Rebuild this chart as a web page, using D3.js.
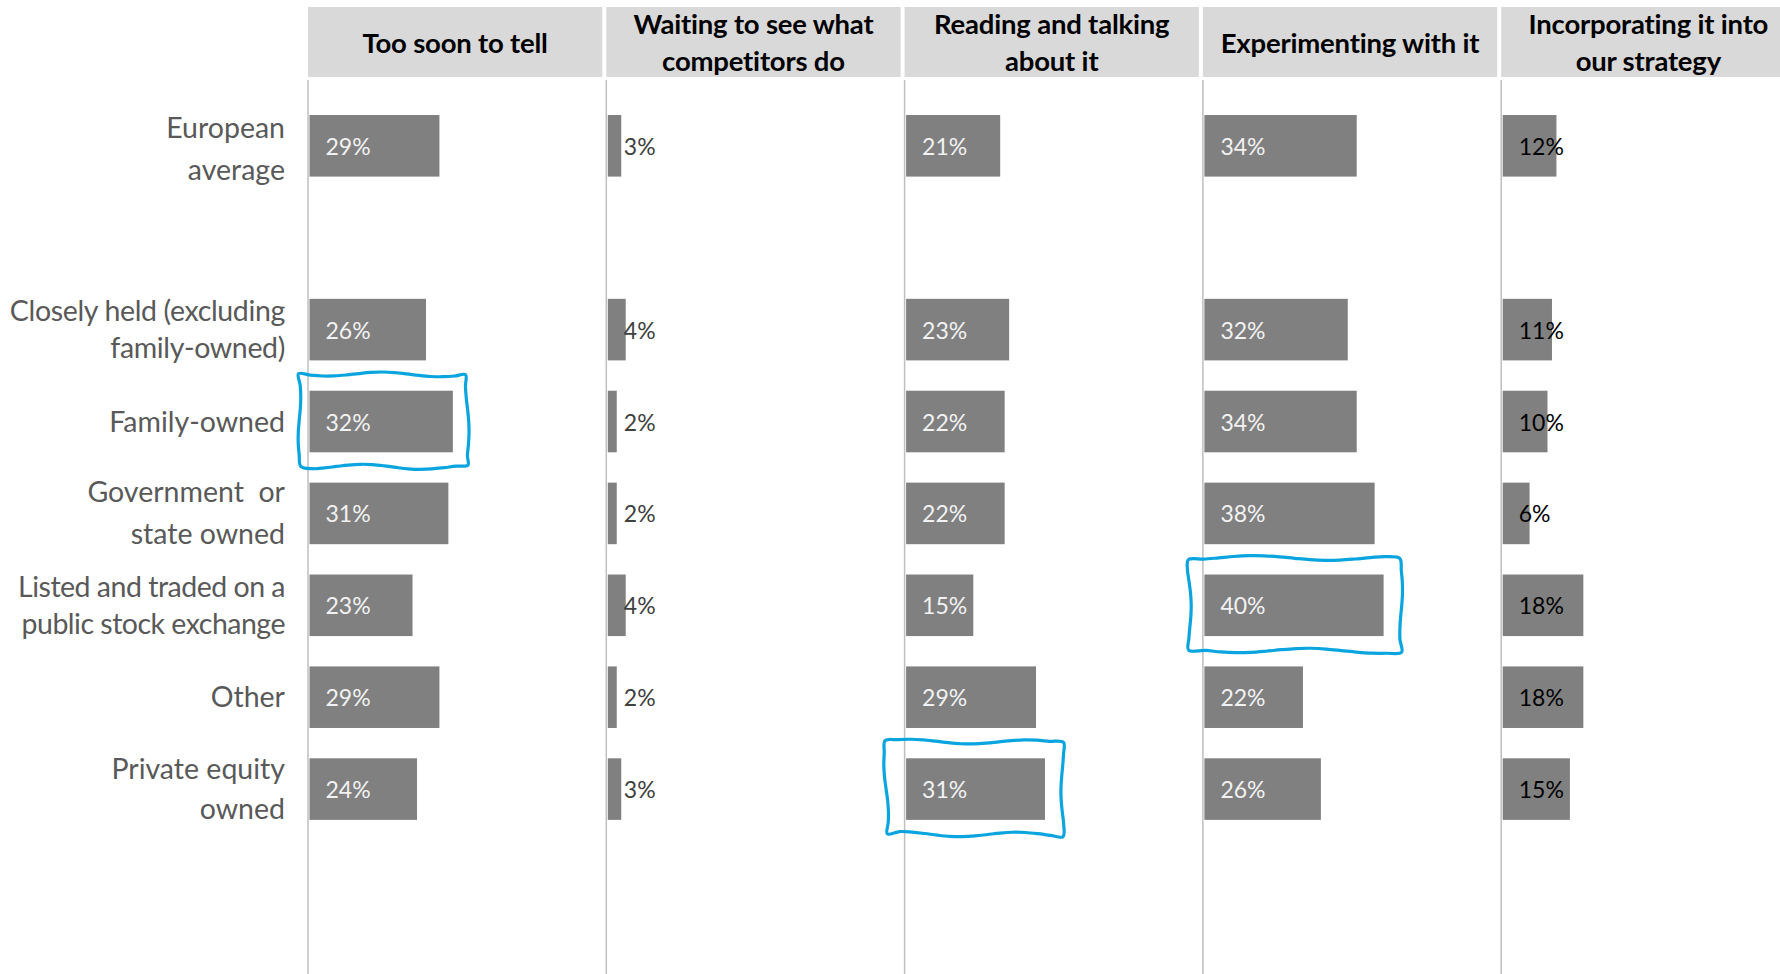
<!DOCTYPE html>
<html>
<head>
<meta charset="utf-8">
<script src="https://cdn.jsdelivr.net/npm/d3@7"></script>
<style>
  html, body { margin: 0; padding: 0; background: #ffffff; }
  svg { display: block; }
  text { font-family: Lato, "Open Sans", sans-serif; }
</style>
</head>
<body>
<svg id="chart" width="1780" height="974"></svg>
<script>
// Ownership groups (rows) and the label lines used for each one
const groups = [
  "European average",
  "Closely held (excluding family-owned)",
  "Family-owned",
  "Government or state owned",
  "Listed and traded on a public stock exchange",
  "Other",
  "Private equity owned"
];
const groupLines = [
  ["European", "average"],
  ["Closely held (excluding", "family-owned)"],
  ["Family-owned"],
  ["Government  or", "state owned"],
  ["Listed and traded on a", "public stock exchange"],
  ["Other"],
  ["Private equity", "owned"]
];

// Stages of adoption (panels) and their header lines
const stages = [
  "Too soon to tell",
  "Waiting to see what competitors do",
  "Reading and talking about it",
  "Experimenting with it",
  "Incorporating it into our strategy"
];
const stageLines = [
  ["Too soon to tell"],
  ["Waiting to see what", "competitors do"],
  ["Reading and talking", "about it"],
  ["Experimenting with it"],
  ["Incorporating it into", "our strategy"]
];

// Share of respondents (%) per group, one array per stage
const tooSoon       = [29, 26, 32, 31, 23, 29, 24];
const waiting       = [3, 4, 2, 2, 4, 2, 3];
const reading       = [21, 23, 22, 22, 15, 29, 31];
const experimenting = [34, 32, 34, 38, 40, 22, 26];
const incorporating = [12, 11, 10, 6, 18, 18, 15];
const seriesByStage = [tooSoon, waiting, reading, experimenting, incorporating];

// Cells circled by hand
const highlights = [
  { group: "Family-owned", stage: "Too soon to tell" },
  { group: "Listed and traded on a public stock exchange", stage: "Experimenting with it" },
  { group: "Private equity owned", stage: "Reading and talking about it" }
];

// ---- styling ----
const valueLabelColors = ["#f2f2f2", "#404040", "#f2f2f2", "#f2f2f2", "#000000"];
const groupLineGap = [42, 37, 0, 42, 37, 0, 40];
const groupLetterSpacing = [0, -0.35, 0, 0, -0.5, 0, 0];

const svg = d3.select("#chart");

// Rows: the average sits alone, followed by an empty slot, then the groups
const slotOf = i => (i === 0 ? 0 : i + 1);
const y = d3.scaleBand()
  .domain(d3.range(9))
  .range([84.7, 942.1])
  .padding(0.33);

// Panels
const panel = d3.scaleBand()
  .domain(stages)
  .range([308, 308 + 5 * 298.3]);

// Bar length within a panel
const x = d3.scaleLinear().domain([0, 50]).range([0, 224]);

// Header boxes
const headers = svg.append("g").selectAll("g")
  .data(stages)
  .join("g")
  .attr("transform", d => `translate(${panel(d)},0)`);

headers.append("rect")
  .attr("x", 0)
  .attr("y", 7)
  .attr("width", panel.bandwidth() - 4)
  .attr("height", 70)
  .attr("fill", "#d9d9d9");

headers.each(function (d, i) {
  const lines = stageLines[i];
  const g = d3.select(this);
  const base = lines.length === 1 ? [53] : [34, 71];
  lines.forEach((t, k) => {
    g.append("text")
      .attr("x", (panel.bandwidth() - 4) / 2)
      .attr("y", base[k])
      .attr("text-anchor", "middle")
      .attr("font-size", 27.5)
      .attr("font-weight", 700)
      .attr("letter-spacing", -0.2)
      .attr("fill", "#000000")
      .text(t);
  });
});

// Panel baselines
svg.append("g").selectAll("line")
  .data(stages)
  .join("line")
  .attr("x1", d => panel(d))
  .attr("x2", d => panel(d))
  .attr("y1", 80)
  .attr("y2", 974)
  .attr("stroke", "#bfbfbf")
  .attr("stroke-width", 1.5);

// Group labels
const labels = svg.append("g");
groups.forEach((g, i) => {
  const lines = groupLines[i];
  const cy = y(slotOf(i)) + y.bandwidth() / 2;
  const gap = groupLineGap[i];
  lines.forEach((t, k) => {
    labels.append("text")
      .attr("x", 285)
      .attr("y", cy + 10 + (k - (lines.length - 1) / 2) * gap + (i === 0 ? 3 : 0))
      .attr("text-anchor", "end")
      .attr("font-size", 28.5)
      .attr("letter-spacing", groupLetterSpacing[i])
      .attr("fill", "#595959")
      .style("white-space", "pre")
      .text(t);
  });
});

// Bars and value labels
stages.forEach((s, c) => {
  const values = seriesByStage[c];
  const g = svg.append("g").attr("transform", `translate(${panel(s) + 1.5},0)`);
  g.selectAll("rect")
    .data(values)
    .join("rect")
    .attr("x", 0)
    .attr("y", (d, i) => y(slotOf(i)))
    .attr("width", d => x(d))
    .attr("height", y.bandwidth())
    .attr("fill", "#808080");
  g.selectAll("text")
    .data(values)
    .join("text")
    .attr("x", 16)
    .attr("y", (d, i) => y(slotOf(i)) + y.bandwidth() / 2 + 9)
    .attr("font-size", 23)
    .attr("fill", valueLabelColors[c])
    .text(d => d + "%");
});

// Hand-drawn outline around a cell
function wobblyRect(x0, y0, x1, y1, seed) {
  const pts = [];
  const edge = (ax, ay, bx, by, n, amp, freq, ph) => {
    const len = Math.hypot(bx - ax, by - ay);
    const nx = -(by - ay) / len, ny = (bx - ax) / len;
    for (let k = 0; k < n; k++) {
      const t = k / n;
      const off = amp * Math.sin(t * Math.PI * freq + ph);
      pts.push([ax + (bx - ax) * t + nx * off, ay + (by - ay) * t + ny * off]);
    }
  };
  edge(x0, y0, x1, y0 + 1, 14, 2.2, 3, seed);
  edge(x1, y0 + 1, x1 + 1, y1, 8, 1.6, 2, seed + 1);
  edge(x1 + 1, y1, x0 + 2, y1 - 1, 14, 2.4, 3, seed + 2);
  edge(x0 + 2, y1 - 1, x0, y0, 8, 1.8, 2, seed + 3);
  return d3.line().curve(d3.curveCatmullRomClosed)(pts);
}

const pads = [[11, 14], [16, 17], [21, 17]];
svg.append("g").selectAll("path")
  .data(highlights)
  .join("path")
  .attr("d", (h, k) => {
    const gi = groups.indexOf(h.group);
    const si = stages.indexOf(h.stage);
    const v = seriesByStage[si][gi];
    const bx = panel(h.stage) + 1.5;
    const by = y(slotOf(gi));
    return wobblyRect(bx - pads[k][0], by - 17, bx + x(v) + pads[k][1], by + y.bandwidth() + 15, k * 1.7);
  })
  .attr("fill", "none")
  .attr("stroke", "#0aa5df")
  .attr("stroke-width", 3.2)
  .attr("stroke-linejoin", "round");
</script>
</body>
</html>
